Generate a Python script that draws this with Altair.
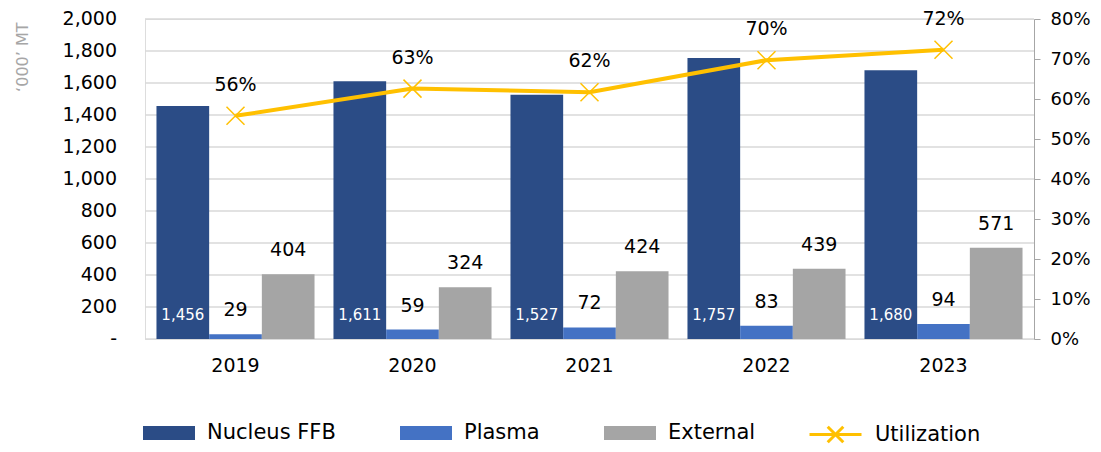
import altair as alt
import pandas as pd

years = ["2019", "2020", "2021", "2022", "2023"]
series = ["Nucleus FFB", "Plasma", "External"]
nucleus = [1456, 1611, 1527, 1757, 1680]
plasma = [29, 59, 72, 83, 94]
external = [404, 324, 424, 439, 571]
utilization = [0.558, 0.626, 0.617, 0.697, 0.723]

left_ticks = [0, 200, 400, 600, 800, 1000, 1200, 1400, 1600, 1800, 2000]
left_tick_labels = ["-\u00a0\u00a0", "200", "400", "600", "800", "1,000",
                    "1,200", "1,400", "1,600", "1,800", "2,000"]
right_ticks = [0, 0.1, 0.2, 0.3, 0.4, 0.5, 0.6, 0.7, 0.8]

bar_colors = ["#2B4C86", "#4472C4", "#A5A5A5"]
line_name = ["Utilization"]
line_color = ["#FFC000"]

FONT = "DejaVu Sans"

rows = []
for i, y in enumerate(years):
    for s, vals in zip(series, [nucleus, plasma, external]):
        rows.append({"year": y, "series": s, "value": vals[i], "zero": 0})
bars_df = pd.DataFrame(rows)
util_df = pd.DataFrame({"year": years, "util": utilization, "name": line_name * len(years)})
ticks_df = pd.DataFrame({"tick": left_ticks, "label": left_tick_labels})

x_scale = alt.Scale(paddingInner=0.107, paddingOuter=0.0648)

x_enc = alt.X("year:N", scale=x_scale, sort=years,
              axis=alt.Axis(title=None, ticks=False, domain=False, labelAngle=0,
                            labelFont=FONT, labelFontSize=19, labelColor="#000000",
                            labelPadding=17))
xoff = alt.XOffset("series:N", sort=series,
                   scale=alt.Scale(domain=series, paddingInner=0, paddingOuter=0))

rect_path = "M-1,-0.27L1,-0.27L1,0.27L-1,0.27Z"
x_path = "M-1,0L1,0M-0.3,-0.3L0.3,0.3M-0.3,0.3L0.3,-0.3"

bar_legend = alt.Legend(
    orient="none", legendX=-2, legendY=388, direction="horizontal", title=None,
    labelFont=FONT, labelFontSize=21, labelColor="#000000", labelLimit=400,
    symbolType=rect_path, symbolSize=2704, columnPadding=64, labelOffset=12,
    symbolStrokeWidth=0, symbolOpacity=1,
)
line_legend = alt.Legend(
    orient="none", legendX=663, legendY=388, direction="horizontal", title=None,
    labelFont=FONT, labelFontSize=21, labelColor="#000000", labelLimit=400,
    symbolType=x_path, symbolSize=2704, labelOffset=12,
    symbolStrokeWidth=3, symbolFillColor="transparent", symbolOpacity=1,
)

left_axis = alt.Axis(values=left_ticks, labels=False, grid=False,
                     domain=False, ticks=False,
                     title="‘000’ MT", titleFont=FONT, titleFontSize=16,
                     titleFontWeight="normal", titleColor="#A6A6A6",
                     titleAngle=270, titleAlign="right", titleBaseline="middle",
                     titleX=-123, titleY=3)
left_scale = alt.Scale(domain=[0, 2000])

grid = alt.Chart(ticks_df).mark_rule(color="#D9D9D9", strokeWidth=1.5).encode(
    y=alt.Y("tick:Q", scale=left_scale, axis=left_axis),
    x=alt.value(0), x2=alt.value("width"),
)
tick_text = alt.Chart(ticks_df).mark_text(
    align="right", baseline="middle", font=FONT, fontSize=19, color="#000000"
).encode(
    y=alt.Y("tick:Q", scale=left_scale, axis=left_axis),
    x=alt.value(-28), text="label:N",
)

bars = alt.Chart(bars_df).mark_bar().encode(
    x=x_enc, xOffset=xoff, y=alt.Y("value:Q", scale=left_scale, axis=left_axis),
    color=alt.Color("series:N", scale=alt.Scale(domain=series, range=bar_colors),
                    sort=series, legend=bar_legend),
)

nuc_text = alt.Chart(bars_df).transform_filter(
    alt.datum.series == "Nucleus FFB"
).mark_text(color="white", dy=-24, baseline="middle", font=FONT, fontSize=15).encode(
    x=x_enc, xOffset=xoff, y=alt.Y("zero:Q", scale=left_scale, axis=left_axis),
    text=alt.Text("value:Q", format=",")
)

other_text = alt.Chart(bars_df).transform_filter(
    alt.datum.series != "Nucleus FFB"
).mark_text(color="black", dy=-24, baseline="middle", font=FONT, fontSize=19).encode(
    x=x_enc, xOffset=xoff, y=alt.Y("value:Q", scale=left_scale, axis=left_axis),
    text=alt.Text("value:Q", format=",")
)

left = alt.layer(grid, tick_text, bars, nuc_text, other_text)

right_axis = alt.Axis(orient="right", format=".0%", values=right_ticks,
                      labelOverlap=False, labelFlush=False,
                      grid=False, domain=True, domainColor="#A6A6A6",
                      tickColor="#A6A6A6", tickSize=6, labelPadding=10,
                      labelFont=FONT, labelFontSize=18, labelColor="#000000",
                      title=None)
right_scale = alt.Scale(domain=[0, 0.8])
y_right = alt.Y("util:Q", scale=right_scale, axis=right_axis)

line = alt.Chart(util_df).mark_line(strokeWidth=4).encode(
    x=x_enc, y=y_right,
    stroke=alt.Stroke("name:N",
                      scale=alt.Scale(domain=line_name, range=line_color),
                      legend=line_legend),
)
pts = alt.Chart(util_df).mark_point(
    shape="M-1,-1L1,1M-1,1L1,-1", size=324, filled=False, strokeWidth=1.5,
    color="#FFC000", opacity=1
).encode(x=x_enc, y=y_right)
pct_text = alt.Chart(util_df).mark_text(
    color="black", dy=-31, baseline="middle", font=FONT, fontSize=19
).encode(x=x_enc, y=y_right, text=alt.Text("util:Q", format=".0%"))

right = alt.layer(line, pts, pct_text)

chart = alt.layer(left, right).resolve_scale(y="independent").properties(
    width=889, height=320,
    autosize=alt.AutoSizeParams(type="none"),
    padding={"left": 137, "top": 11, "right": 59, "bottom": 105},
).configure_view(stroke=None).configure(background="white")

chart.save("out.html", embed_options={"renderer": "svg", "actions": False})
